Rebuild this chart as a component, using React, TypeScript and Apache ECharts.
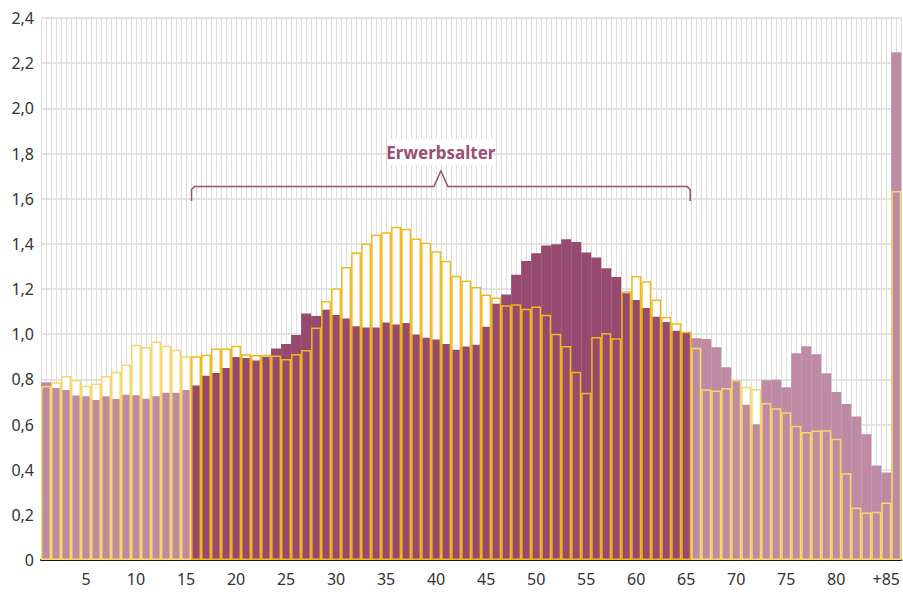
import React, { useEffect, useRef } from "react";
import * as echarts from "echarts";

// Age categories 0 .. 85+ (86 bars)
const ageCategories: string[] = [
  "0","1","2","3","4","5","6","7","8","9",
  "10","11","12","13","14","15","16","17","18","19",
  "20","21","22","23","24","25","26","27","28","29",
  "30","31","32","33","34","35","36","37","38","39",
  "40","41","42","43","44","45","46","47","48","49",
  "50","51","52","53","54","55","56","57","58","59",
  "60","61","62","63","64","65","66","67","68","69",
  "70","71","72","73","74","75","76","77","78","79",
  "80","81","82","83","84","85+",
];

// Tick labels shown under the axis
const tickLabels: string[] = [
  "5","10","15","20","25","30","35","40","45","50",
  "55","60","65","70","75","80","+85",
];

// Filled (purple) series
const purpleValues: number[] = [
  0.787, 0.762, 0.753, 0.728, 0.725, 0.708, 0.725, 0.713, 0.732, 0.729,
  0.714, 0.725, 0.741, 0.741, 0.753, 0.773, 0.816, 0.828, 0.850, 0.899,
  0.894, 0.883, 0.900, 0.936, 0.956, 0.996, 1.092, 1.080, 1.108, 1.085,
  1.069, 1.035, 1.029, 1.030, 1.052, 1.043, 1.049, 0.999, 0.984, 0.976,
  0.956, 0.931, 0.945, 0.953, 1.033, 1.135, 1.176, 1.263, 1.324, 1.358,
  1.393, 1.398, 1.420, 1.408, 1.362, 1.340, 1.292, 1.253, 1.181, 1.151,
  1.116, 1.077, 1.054, 1.015, 1.008, 0.982, 0.979, 0.942, 0.853, 0.797,
  0.688, 0.601, 0.796, 0.798, 0.765, 0.915, 0.946, 0.911, 0.827, 0.744,
  0.691, 0.635, 0.557, 0.418, 0.387, 2.248,
];

// Outlined (yellow) series
const yellowValues: number[] = [
  0.770, 0.787, 0.815, 0.798, 0.772, 0.782, 0.815, 0.834, 0.866, 0.953,
  0.943, 0.968, 0.949, 0.931, 0.902, 0.902, 0.909, 0.937, 0.937, 0.949,
  0.911, 0.908, 0.909, 0.905, 0.890, 0.912, 0.930, 1.030, 1.147, 1.203,
  1.297, 1.362, 1.401, 1.441, 1.451, 1.476, 1.467, 1.424, 1.405, 1.367,
  1.325, 1.259, 1.238, 1.209, 1.176, 1.162, 1.128, 1.132, 1.113, 1.122,
  1.086, 1.002, 0.948, 0.834, 0.741, 0.987, 1.005, 0.982, 1.190, 1.258,
  1.234, 1.153, 1.077, 1.048, 1.011, 0.940, 0.756, 0.751, 0.762, 0.797,
  0.767, 0.757, 0.695, 0.672, 0.654, 0.595, 0.567, 0.573, 0.574, 0.537,
  0.384, 0.233, 0.210, 0.214, 0.255, 1.634,
];

// Working age range (index of first / last age)
const workStart = 15;
const workEnd = 64;
const bracketLabel = "Erwerbsalter";

const DARK = "#974a6f";
const LIGHT = "#bf8ba4";
const YELLOW_STRONG = "#f0b81c";
const YELLOW_PALE = "#f6d768";
const LABEL_PURPLE = "#9b4d72";
const FONT = "'Noto Sans', sans-serif";

export default function App() {
  const ref = useRef<HTMLDivElement>(null);

  useEffect(() => {
    const el = ref.current!;
    const chart = echarts.init(el, null, { renderer: "svg" });
    const inWork = (i: number) => i >= workStart && i <= workEnd;

    const option: any = {
      animation: false,
      backgroundColor: "#ffffff",
      grid: { left: 41, right: 1, top: 18, bottom: 32, containLabel: false },
      xAxis: [
        {
          type: "category",
          data: ageCategories,
          axisLine: { show: true, lineStyle: { color: "#1a1a1a", width: 2 } },
          axisTick: { show: false },
          splitLine: { show: false },
          axisLabel: {
            interval: 0,
            margin: 11,
            color: "#333333",
            fontSize: 16,
            fontFamily: FONT,
            formatter: (_v: string, idx: number) =>
              (idx + 1) % 5 === 0 ? tickLabels[(idx + 1) / 5 - 1] || "" : "",
          },
        },
        {
          type: "value",
          min: 0,
          max: ageCategories.length * 2,
          interval: 1,
          show: true,
          axisLine: { show: false },
          axisTick: { show: false },
          axisLabel: { show: false },
          splitLine: { show: true, lineStyle: { color: "#dcdcdc", width: 1 } },
        },
      ],
      yAxis: {
        type: "value",
        min: 0,
        max: 2.4,
        interval: 0.2,
        axisLine: { show: false },
        axisTick: { show: false },
        splitLine: { show: true, lineStyle: { color: "#dadada", width: 1.5 } },
        axisLabel: {
          margin: 7,
          color: "#333333",
          fontSize: 16,
          fontFamily: FONT,
          formatter: (v: number) => (v === 0 ? "0" : v.toFixed(1).replace(".", ",")),
        },
      },
      series: [
        {
          name: "fill",
          type: "bar",
          xAxisIndex: 0,
          barGap: "-100%",
          barCategoryGap: 0,
          silent: true,
          itemStyle: { color: "#ffffff" },
          data: yellowValues,
          z: 1,
        },
        {
          name: "purple",
          type: "bar",
          xAxisIndex: 0,
          barGap: "-100%",
          barCategoryGap: 0,
          data: purpleValues.map((v, i) => ({
            value: v,
            itemStyle: { color: inWork(i) ? DARK : LIGHT },
          })),
          z: 2,
        },
        {
          name: "yellow",
          type: "bar",
          xAxisIndex: 0,
          barGap: "-100%",
          barCategoryGap: 0,
          data: yellowValues.map((v, i) => ({
            value: v,
            itemStyle: {
              color: "rgba(0,0,0,0)",
              borderColor: inWork(i) ? YELLOW_STRONG : YELLOW_PALE,
              borderWidth: 1.5,
            },
          })),
          z: 3,
        },
      ],
    };
    chart.setOption(option);

    const cx = (i: number) => chart.convertToPixel({ xAxisIndex: 0 }, i) as number;
    const bw = cx(1) - cx(0);
    const L = cx(workStart) - bw / 2 + 0.5;
    const R = cx(workEnd) + bw / 2 - 1;
    const C = (L + R) / 2;
    const yLine = 186.5;
    const yEnd = 201;
    const yPeak = 171;

    chart.setOption({
      graphic: [
        {
          type: "polyline",
          z: 100,
          shape: {
            points: [
              [L, yEnd],
              [L, yLine + 3],
              [L + 3, yLine],
              [C - 7, yLine],
              [C, yPeak],
              [C + 7, yLine],
              [R - 3, yLine],
              [R, yLine + 3],
              [R, yEnd],
            ],
          },
          style: { stroke: LABEL_PURPLE, lineWidth: 1.5, fill: null },
        },
        {
          type: "rect",
          z: 100,
          shape: { x: C - 52, y: 139, width: 104, height: 26 },
          style: { fill: "#ffffff" },
        },
        {
          type: "text",
          z: 101,
          x: C,
          y: 152,
          style: {
            text: bracketLabel,
            fill: LABEL_PURPLE,
            font: `bold 17px ${FONT}`,
            textAlign: "center",
            textVerticalAlign: "middle",
          },
        },
      ],
    });

    return () => chart.dispose();
  }, []);

  return (
    <div
      ref={ref}
      style={{ position: "fixed", left: 0, top: 0, width: 903, height: 592, background: "#fff" }}
    />
  );
}
